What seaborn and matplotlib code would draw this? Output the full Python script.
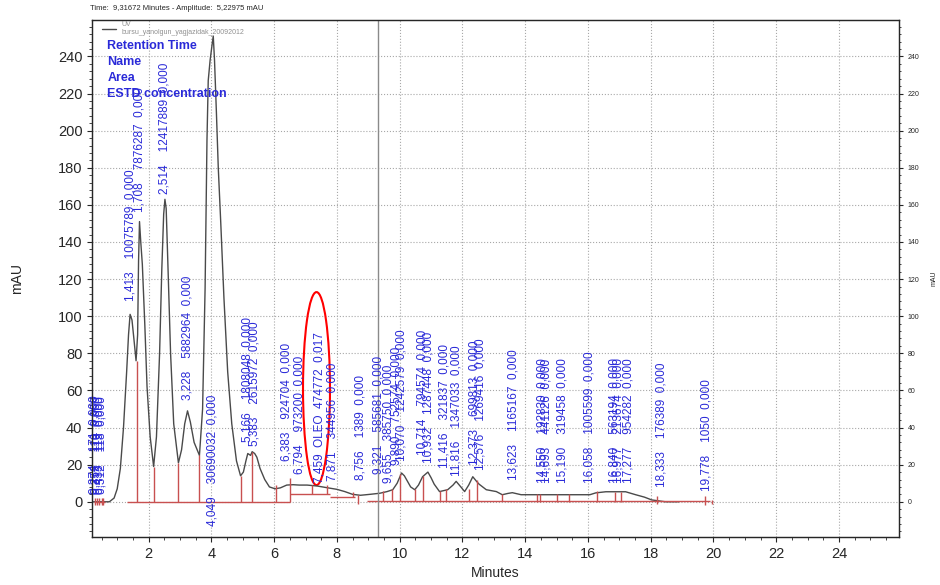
import pandas as pd
import seaborn as sns
import matplotlib.pyplot as plt
from matplotlib.patches import Ellipse
from matplotlib.ticker import MultipleLocator, AutoMinorLocator

# ========================
# Datos leidos del cromatograma
# ========================
trace_t = [0.22, 0.5, 0.75, 0.9, 1.0, 1.1, 1.2, 1.3, 1.36, 1.41, 1.47, 1.53, 1.6, 1.65,
           1.68, 1.71, 1.75, 1.8, 1.88, 1.95, 2.05, 2.16, 2.25, 2.35, 2.42, 2.48, 2.52,
           2.56, 2.62, 2.7, 2.8, 2.95, 3.05, 3.15, 3.24, 3.33, 3.45, 3.62, 3.72, 3.8,
           3.86, 3.9, 3.96, 4.02, 4.06, 4.1, 4.16, 4.22, 4.3, 4.4, 4.52, 4.65, 4.8, 4.93,
           5.02, 5.1, 5.16, 5.25, 5.3, 5.38, 5.45, 5.55, 5.7, 5.85, 6.03, 6.2, 6.4, 6.6,
           6.8, 7.05, 7.37, 7.68, 8.0, 8.25, 8.5, 8.75, 9.05, 9.37, 9.6, 9.78, 9.92,
           10.06, 10.15, 10.25, 10.35, 10.48, 10.6, 10.73, 10.9, 11.0, 11.1, 11.27,
           11.53, 11.7, 11.8, 11.95, 12.07, 12.2, 12.33, 12.45, 12.53, 12.76, 13.08,
           13.27, 13.45, 13.59, 13.87, 14.67, 15.5, 16.06, 16.25, 16.57, 17.2, 17.52,
           17.8, 18.03, 18.47, 18.9]
trace_mau = [0, 0, 0, 2, 7, 18, 40, 70, 90, 101, 98, 88, 76, 90,
             130, 151, 140, 128, 95, 62, 35, 19, 35, 80, 125, 155, 163,
             158, 125, 80, 42, 21, 28, 42, 49, 43, 32, 25, 50, 115,
             195, 227, 238, 246, 251, 238, 210, 180, 150, 110, 70, 42, 22, 14,
             16, 22, 26, 25, 27, 26, 24, 18, 12, 8, 7, 7.5, 9, 9.2,
             9, 9, 8.5, 7.6, 6.7, 5.5, 4, 3.5, 4, 4.6, 5.5, 6.5, 10,
             15.5, 14, 11, 8, 6.5, 9, 13.5, 16, 13, 9.5, 5.5,
             6.5, 9, 11, 8, 5.5, 9, 13.5, 11, 9.5, 6.5, 5.5,
             3.8, 4.5, 4.9, 3.8, 3.8, 3.8, 3.8, 4.8, 5.4, 5.4, 3.8,
             2.5, 1, 0, 0]

# picos integrados
rt = [0.274, 0.352, 0.433, 0.512, 1.413, 1.708, 2.514, 3.228, 4.049, 5.166, 5.383,
      6.383, 6.794, 7.459, 7.871, 8.756, 9.321, 9.655, 9.890, 10.070, 10.714, 10.932,
      11.416, 11.816, 12.373, 12.576, 13.623, 14.550, 14.693, 15.190, 16.058, 16.840,
      16.977, 17.277, 18.333, 19.778]
names = [""] * 13 + ["OLEO"] + [""] * 22
areas = [171, 110, 115, 118, 10075789, 7876287, 12417889, 5882964, 30690032, 1808048,
         2615972, 924704, 973200, 474772, 344956, 1389, 585681, 385750, 752574, 1242579,
         794574, 1287448, 321837, 1347033, 699813, 1269416, 1165167, 192830, 441126,
         319458, 1005599, 563194, 213674, 954282, 176389, 1050]
conc = ["0,000"] * 13 + ["0,017"] + ["0,000"] * 22
label_y = [4, 4, 4, 4, 108, 156, 166, 55, -13, 32, 30, 22, 15, 10, 11, 12, 15, 10, 20,
           22, 25, 21, 18, 14, 20, 17, 12, 10, 10, 10, 10, 10, 10, 10, 8, 6]

# lineas de corte (inicio/fin de pico) y linea base
drop_t = [0.28, 0.36, 0.43, 0.5, 0.56, 1.62, 2.16, 2.94, 3.62, 4.93, 5.3, 6.05, 6.5,
          7.2, 7.68, 8.5, 8.67, 9.46, 9.75, 10.0, 10.5, 10.73, 11.27, 11.49, 12.22,
          12.48, 13.27, 14.38, 14.48, 15.0, 15.4, 16.3, 16.86, 17.05, 18.2, 19.74, 19.94]
drop_low = [-2, -2, -2, -2, -2, 0, 0, 0, 0, 0, 0, 0, 0, 4, 4, 2.5, -1, 0.5, 0.5, 0.5,
            0.5, 0.5, 0.5, 0.5, 0.5, 0.5, 0.5, 0, 0, 0, 0, 0, 0, 0, -1, -2, -1]
drop_high = [2, 2, 2, 2, 2, 76, 19, 21, 25, 14, 27, 9, 13, 9, 9, 5, 3.5, 6, 7, 15, 7,
             14, 6, 7, 7, 12, 4, 4, 4, 4, 4, 6, 5.5, 5.5, 3, 3, 1]
base_start = [0.25, 1.3, 6.5, 7.78, 8.95]
base_end = [0.6, 6.5, 7.78, 8.57, 19.9]
base_level = [0, 0, 4, 2.5, 0.5]

cursor_time = 9.31672
cursor_amp = 5.22975


def fmt(v):
    return f"{v:.3f}".replace(".", ",")


sns.set_style("white")
plt.rcParams["font.family"] = ["Liberation Sans", "DejaVu Sans"]

fig = plt.figure(figsize=(9.4, 5.85), dpi=100)
ax = fig.add_axes([0.098, 0.082, 0.858, 0.884])

df = pd.DataFrame({"t": trace_t, "mau": trace_mau})
sns.lineplot(data=df, x="t", y="mau", color="#4a4a4a", lw=1, ax=ax,
             label="UV\nbursu_yanolgun_yagjazidak_20092012")

red = "#c85050"
ax.vlines(drop_t, drop_low, drop_high, color=red, lw=1)
ax.hlines(base_level, base_start, base_end, color=red, lw=1)
ax.axvline(cursor_time, color="#8a8a8a", lw=1)

blue = "#2a2ad8"
for x, n, a, c, y in zip(rt, names, areas, conc, label_y):
    txt = "  ".join([fmt(x), n, str(a), c])
    ax.text(x, y, txt, rotation=90, ha="center", va="bottom", color=blue, fontsize=8.5)

# marca del pico de interes
ax.add_patch(Ellipse((7.35, 61), 0.86, 104, fill=False, ec="red", lw=1.5))

for i, s in enumerate(["Retention Time", "Name", "Area", "ESTD concentration"]):
    ax.text(0.019, 0.95 - i * 0.031, s, transform=ax.transAxes, color=blue,
            fontsize=9, fontweight="bold", va="center")

ax.set_xlim(0.2, 25.9)
ax.set_ylim(-19, 259.7)
ax.xaxis.set_major_locator(MultipleLocator(2))
ax.xaxis.set_minor_locator(AutoMinorLocator(4))
ax.yaxis.set_major_locator(MultipleLocator(20))
ax.yaxis.set_minor_locator(AutoMinorLocator(5))
ax.set_xticks(range(2, 26, 2))
ax.tick_params(which="both", direction="out", left=True, bottom=True, labelsize=10.5)
ax.tick_params(which="minor", length=2)
ax.grid(True, ls=":", color="#a8a8a8", lw=0.8)
ax.set_xlabel("Minutes", fontsize=10)
ax.set_ylabel("mAU", fontsize=10, labelpad=24)
for sp in ax.spines.values():
    sp.set_color("#404040")
    sp.set_linewidth(1)

ax2 = ax.twinx()
ax2.set_ylim(ax.get_ylim())
ax2.yaxis.set_minor_locator(AutoMinorLocator(5))
ax2.set_yticks(range(0, 260, 20))
ax2.tick_params(which="both", direction="out", right=True, labelsize=5, length=3)
ax2.tick_params(which="minor", length=1.5)
ax2.set_ylabel("mAU", fontsize=5, labelpad=8)
ax2.grid(False)

ax.legend(loc="upper left", bbox_to_anchor=(0.005, 1.01), fontsize=5,
          frameon=False, handlelength=2, labelcolor="#909090")

fig.text(0.096, 0.986, f"Time:  {cursor_time:.5f} Minutes - Amplitude:  "
         f"{cursor_amp:.5f} mAU".replace(".", ","), fontsize=5.5, va="center")

plt.savefig("out.png", dpi=100)
plt.close()
